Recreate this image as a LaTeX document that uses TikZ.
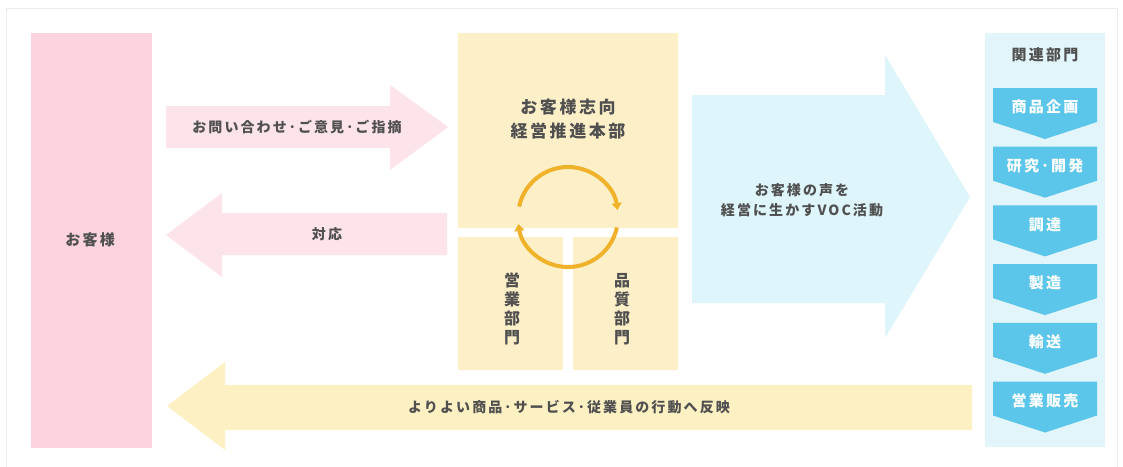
\documentclass[tikz,border=0pt]{standalone}
\usepackage{fontspec}
\setmainfont{Noto Sans CJK JP}[LetterSpace=15]
\usetikzlibrary{arrows.meta}
\definecolor{pinkbox}{HTML}{FCD3DE}
\definecolor{pinkarrow}{HTML}{FDE3EA}
\definecolor{yelbox}{HTML}{FDF0C9}
\definecolor{yelarrow}{HTML}{FDF1C4}
\definecolor{bluearrow}{HTML}{DDF5FB}
\definecolor{bluebox}{HTML}{E2F5FB}
\definecolor{chev}{HTML}{5CC6EA}
\definecolor{orangec}{HTML}{F0B22A}
\definecolor{txt}{HTML}{505050}
\definecolor{framec}{HTML}{EBEBEB}
\begin{document}
\begin{tikzpicture}[x=1pt,y=-1pt,
  lbl/.style={text=txt,align=center,inner sep=0pt,font=\bfseries\fontsize{14}{16}\selectfont},
  big/.style={lbl,font=\bfseries\fontsize{17}{24}\selectfont},
  vert/.style={lbl,font=\bfseries\fontsize{16}{19}\selectfont},
  chevtxt/.style={text=white,inner sep=0pt,font=\bfseries\fontsize{15}{16}\selectfont},
  cycarrow/.style={draw=orangec,line width=4pt,-{Triangle[length=7pt,width=10pt]}}]
\useasboundingbox (0,0) rectangle (1123,466);
\fill[white] (0,0) rectangle (1123,466);
\draw[framec,line width=1pt] (6,8) rectangle (1117,480);

% customer box
\fill[pinkbox] (31,33) rectangle (152,448);
\node[lbl,font=\bfseries\fontsize{15}{18}\selectfont] (cust) at (90,240) {お客様};

% inquiry arrow
\fill[pinkarrow] (166,106) -- (390,106) -- (390,85) -- (448,127) -- (390,170) -- (390,148) -- (166,148) -- cycle;
\node[lbl] (inq) at (297,127) {お問い合わせ･ご意見･ご指摘};

% response arrow
\fill[pinkarrow] (447,213) -- (222,213) -- (222,193) -- (166,235) -- (222,277) -- (222,255) -- (447,255) -- cycle;
\node[lbl] (resp) at (327,234) {対応};

% center block
\fill[yelbox] (458,33) rectangle (678,228);
\fill[yelbox] (458,237) rectangle (563,370);
\fill[yelbox] (573,237) rectangle (678,370);
\node[big] (hq) at (568,119) {お客様志向\\経営推進本部};
\node[vert] (sales) at (512,309) {営\\業\\部\\門};
\node[vert] (qual) at (622,309) {品\\質\\部\\門};
\coordinate (cc) at (568,217);
\draw[cycarrow] (cc) ++(-168:50) arc[start angle=-168, end angle=-8, radius=50];
\draw[cycarrow] (cc) ++(12:50) arc[start angle=12, end angle=172, radius=50];

% VOC arrow
\fill[bluearrow] (692,95) -- (885,95) -- (885,55) -- (970,197) -- (885,338) -- (885,303) -- (692,303) -- cycle;
\node[lbl,font=\bfseries\fontsize{14}{20}\selectfont] (voc) at (802,200) {お客様の声を\\経営に生かすVOC活動};

% related departments
\fill[bluebox] (985,33) rectangle (1105,447);
\node[lbl,font=\bfseries\fontsize{15}{16}\selectfont] (rel) at (1045,55) {関連部門};
\foreach \t [count=\i] in {商品企画,研究･開発,調達,製造,輸送,営業販売}{
  \pgfmathsetmacro\ty{88+(\i-1)*58.7}
  \fill[chev] (993,\ty) -- (1097,\ty) -- (1097,\ty+34) -- (1045,\ty+51) -- (993,\ty+34) -- cycle;
  \node[chevtxt] (d\i) at (1045,\ty+19) {\t};
}

% feedback arrow
\fill[yelarrow] (972,385) -- (225,385) -- (225,362) -- (167,406) -- (225,450) -- (225,430) -- (972,430) -- cycle;
\node[lbl] (fb) at (569,407) {よりよい商品･サービス･従業員の行動へ反映};
\end{tikzpicture}
\end{document}
